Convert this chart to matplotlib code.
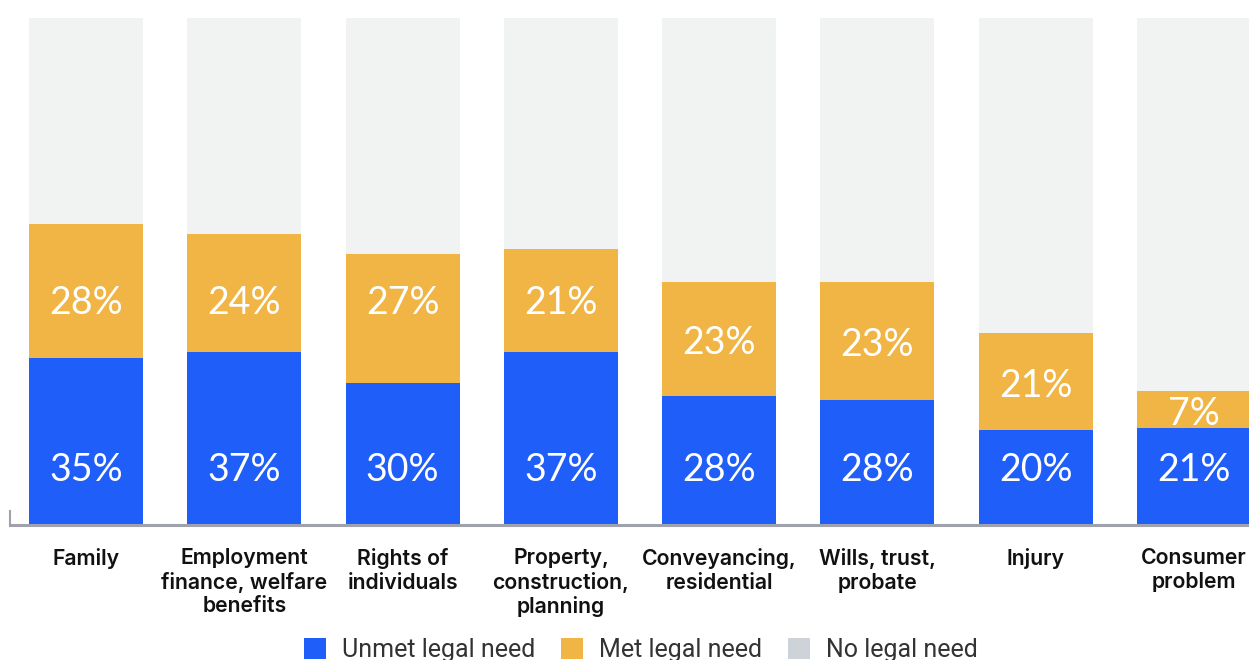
import matplotlib
matplotlib.use("Agg")
import matplotlib.pyplot as plt
from matplotlib.patches import Patch

# ---- data (percent of full bar height) ----
categories = ["Family", "Employment\nfinance, welfare\nbenefits", "Rights of\nindividuals",
              "Property,\nconstruction,\nplanning", "Conveyancing,\nresidential",
              "Wills, trust,\nprobate", "Injury", "Consumer\nproblem"]
unmet = [32.9, 34.1, 28.0, 34.1, 25.4, 24.7, 18.7, 19.1]
met = [26.4, 23.3, 25.4, 20.3, 22.5, 23.3, 19.1, 7.3]
no_need = [40.7, 42.6, 46.6, 45.6, 52.1, 52.0, 62.2, 73.6]
unmet_labels = ["35%", "37%", "30%", "37%", "28%", "28%", "20%", "21%"]
met_labels = ["28%", "24%", "27%", "21%", "23%", "23%", "21%", "7%"]
series_names = ["Unmet legal need", "Met legal need", "No legal need"]

C_UNMET = "#1F5EF8"
C_MET = "#F0B544"
C_NONE = "#F1F3F2"
C_NONE_LEG = "#CED2D9"

W, H, DPI = 1249, 660, 100
fig = plt.figure(figsize=(W / DPI, H / DPI), dpi=DPI)
ax = fig.add_axes([10 / W, (H - 525) / H, 1 - 10 / W, (525 - 18) / H])

x = list(range(len(categories)))
bw = 0.72
ax.bar(x, unmet, width=bw, color=C_UNMET, zorder=2)
ax.bar(x, met, width=bw, bottom=unmet, color=C_MET, zorder=2)
bottom2 = [u + m for u, m in zip(unmet, met)]
ax.bar(x, no_need, width=bw, bottom=bottom2, color=C_NONE, zorder=2)

ax.set_xlim(-0.48, 7.347)
ax.set_ylim(0, 100)
for s in ["top", "right", "left"]:
    ax.spines[s].set_visible(False)
ax.spines["bottom"].set_color("#A0A2AB")
ax.spines["bottom"].set_linewidth(2.2)
ax.spines["bottom"].set_zorder(3)
ax.axvline(-0.48, ymin=0, ymax=14 / 507, color="#A0A2AB", lw=1.5, clip_on=False)
ax.set_xticks([])
ax.set_yticks([])

val_font = dict(family=["Lato", "DejaVu Sans"], fontsize=27, color="white",
                ha="center", va="center", zorder=4)
for i in x:
    ax.text(i, 10.9, unmet_labels[i], **val_font)
    top = unmet[i] + met[i]
    if top > 50:
        ym = 43.8
    else:
        ym = unmet[i] + met[i] / 2 - 0.8
    ax.text(i, ym, met_labels[i], **val_font)

# category labels
for i, lab in enumerate(categories):
    ax.text(i, -4.6, lab, ha="center", va="top", fontsize=15.3,
            family=["Inter", "DejaVu Sans"], fontweight="semibold",
            color="#111111", linespacing=1.2, clip_on=False)

handles = [Patch(facecolor=C_UNMET, edgecolor="none"),
           Patch(facecolor=C_MET, edgecolor="none"),
           Patch(facecolor=C_NONE_LEG, edgecolor="none")]
leg = fig.legend(handles, series_names, loc="center", ncol=3,
                 bbox_to_anchor=(641 / W, 1 - 650 / H), frameon=False,
                 prop={"family": ["Roboto", "DejaVu Sans"], "size": 18},
                 handlelength=0.88, handleheight=0.88, columnspacing=1.05,
                 handletextpad=0.64, borderpad=0)
for t in leg.get_texts():
    t.set_color("#333333")

fig.savefig("out.png", dpi=DPI)
